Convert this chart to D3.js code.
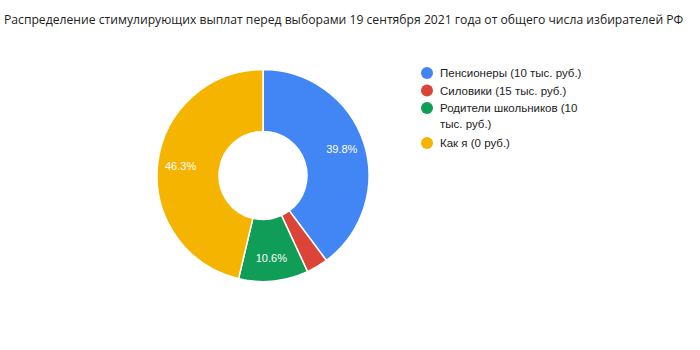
<!DOCTYPE html>
<html>
<head>
<meta charset="utf-8">
<script src="https://cdn.jsdelivr.net/npm/d3@7"></script>
<style>
  body { margin: 0; background: #fff; }
  svg { display: block; }
</style>
</head>
<body>
<svg id="chart" width="700" height="350"></svg>
<script>
var categories = ['Пенсионеры (10 тыс. руб.)', 'Силовики (15 тыс. руб.)', 'Родители школьников (10 тыс. руб.)', 'Как я (0 руб.)'];
var legendLines = [['Пенсионеры (10 тыс. руб.)'], ['Силовики (15 тыс. руб.)'], ['Родители школьников (10', 'тыс. руб.)'], ['Как я (0 руб.)']];
var values = [39.8, 3.3, 10.6, 46.3];
var colors = ['#4285f4', '#db4437', '#0f9d58', '#f4b400'];

var svg = d3.select('#chart');

// title, sized so it spans the same width as the reference
var title = svg.append('text')
  .attr('x', 4)
  .attr('y', 24)
  .attr('font-family', 'Liberation Sans Narrow, Open Sans, sans-serif')
  .attr('font-size', 14)
  .attr('fill', '#222')
  .text('Распределение стимулирующих выплат перед выборами 19 сентября 2021 года от общего числа избирателей РФ');
var w = title.node().getComputedTextLength();
title.attr('font-size', 14 * 680 / w);

var cx = 263, cy = 175.5, outerR = 106, innerR = 44;

var pie = d3.pie().sort(null).value(function(d) { return d; });
var arcs = pie(values);
var arc = d3.arc().innerRadius(innerR).outerRadius(outerR);
var labelArc = d3.arc().innerRadius(83).outerRadius(83);

var g = svg.append('g').attr('transform', 'translate(' + cx + ',' + cy + ')');

g.selectAll('path')
  .data(arcs)
  .enter()
  .append('path')
  .attr('d', arc)
  .attr('fill', function(d, i) { return colors[i]; })
  .attr('stroke', '#fff')
  .attr('stroke-width', 1.5);

// percent labels, skip thin slice
g.selectAll('text.pct')
  .data(arcs.filter(function(d) { return d.data > 5; }))
  .enter()
  .append('text')
  .attr('class', 'pct')
  .attr('transform', function(d) { return 'translate(' + labelArc.centroid(d) + ')'; })
  .attr('text-anchor', 'middle')
  .attr('dy', '0.35em')
  .attr('font-family', 'Arial, Liberation Sans, sans-serif')
  .attr('font-size', 11)
  .attr('fill', '#fff')
  .text(function(d) { return d.data.toFixed(1) + '%'; });

// legend
var legendY = [73, 90.5, 108, 143];
var legend = svg.append('g').attr('transform', 'translate(427,0)');

legend.selectAll('circle')
  .data(categories)
  .enter()
  .append('circle')
  .attr('cx', 0)
  .attr('cy', function(d, i) { return legendY[i]; })
  .attr('r', 6)
  .attr('fill', function(d, i) { return colors[i]; });

legendLines.forEach(function(lines, i) {
  var t = legend.append('text')
    .attr('x', 13)
    .attr('y', legendY[i])
    .attr('font-family', 'Arial, Liberation Sans, sans-serif')
    .attr('font-size', 11.5)
    .attr('fill', '#222');
  lines.forEach(function(line, j) {
    t.append('tspan')
      .attr('x', 13)
      .attr('dy', j == 0 ? '0.35em' : 16)
      .text(line);
  });
});
</script>
</body>
</html>
